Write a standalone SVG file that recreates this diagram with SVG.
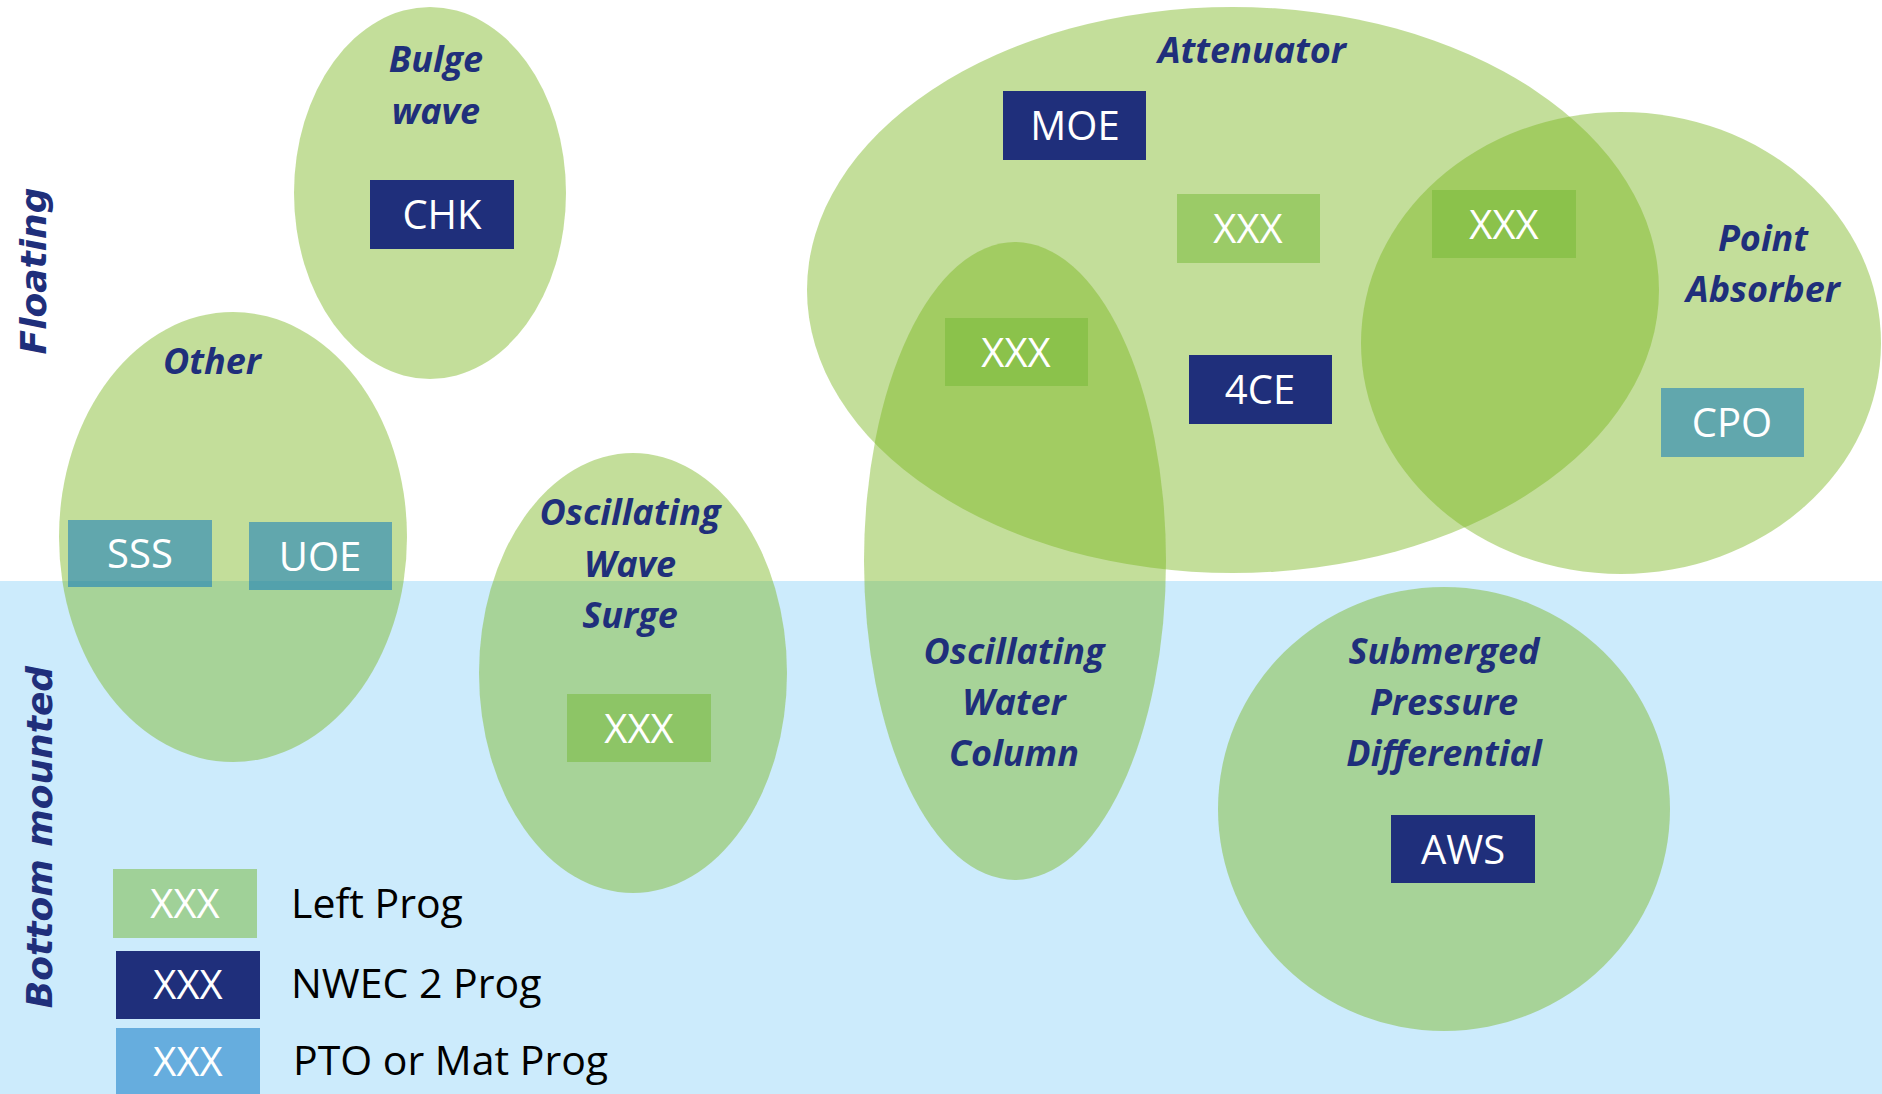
<svg xmlns="http://www.w3.org/2000/svg" width="1882" height="1094" viewBox="0 0 1882 1094">
<defs>
<style>
.blob{fill:#7AB61F;fill-opacity:0.45}
.h{font-family:"Open Sans","Liberation Sans",sans-serif;font-weight:bold;font-style:italic;font-size:36px;fill:#1F2F7B;text-anchor:middle}
.v{font-family:"DejaVu Sans","Verdana",sans-serif;font-weight:bold;font-style:oblique;font-size:36px;fill:#1F2F7B;text-anchor:middle}
.bt{font-family:"Open Sans","Liberation Sans",sans-serif;font-size:40px;fill:#FFFFFF;text-anchor:middle}
.lt{font-family:"Open Sans","Liberation Sans",sans-serif;font-size:41px;fill:#000000}
.navy{fill:#1F2F7B}
.grn{fill:#73B733;fill-opacity:0.5}
.blu{fill:#0070C0;fill-opacity:0.5}
</style>
</defs>
<rect x="0" y="0" width="1882" height="1094" fill="#FFFFFF"/>
<rect id="bottom-zone" x="0" y="581" width="1882" height="513" fill="#CCEBFC"/>

<g id="zone-labels">
<text class="v" transform="translate(46,271) rotate(-90)">Floating</text>
<text class="v" transform="translate(52,837) rotate(-90)">Bottom mounted</text>
</g>

<g id="connectors"></g>

<g id="ellipses">
<ellipse id="e-bulge" class="blob" cx="430" cy="193" rx="136" ry="186"/>
<ellipse id="e-other" class="blob" cx="233" cy="537" rx="174" ry="225"/>
<ellipse id="e-ows" class="blob" cx="633" cy="673" rx="154" ry="220"/>
<ellipse id="e-att" class="blob" cx="1233" cy="290" rx="426" ry="283"/>
<ellipse id="e-owc" class="blob" cx="1015" cy="561" rx="151" ry="319"/>
<ellipse id="e-pa" class="blob" cx="1621" cy="343" rx="260" ry="231"/>
<ellipse id="e-spd" class="blob" cx="1444" cy="809" rx="226" ry="222"/>
</g>

<g id="bulge-wave">
<text class="h" x="436" y="72">Bulge</text>
<text class="h" x="436" y="124">wave</text>
<g id="chk"><rect class="navy" x="370" y="180" width="144" height="69"/><text class="bt" x="442" y="229">CHK</text></g>
</g>

<g id="other">
<text class="h" x="212" y="374">Other</text>
<g id="sss"><rect class="blu" x="68" y="520" width="144" height="67"/><text class="bt" x="140" y="568">SSS</text></g>
<g id="uoe"><rect class="blu" x="249" y="522" width="143" height="68"/><text class="bt" x="320" y="571">UOE</text></g>
</g>

<g id="oscillating-wave-surge">
<text class="h" x="630" y="525">Oscillating</text>
<text class="h" x="630" y="577">Wave</text>
<text class="h" x="630" y="628">Surge</text>
<g id="ows-xxx"><rect class="grn" x="567" y="694" width="144" height="68"/><text class="bt" x="639" y="743">XXX</text></g>
</g>

<g id="attenuator">
<text class="h" x="1252" y="63">Attenuator</text>
<g id="moe"><rect class="navy" x="1003" y="91" width="143" height="69"/><text class="bt" x="1075" y="140">MOE</text></g>
<g id="att-xxx1"><rect class="grn" x="1177" y="194" width="143" height="69"/><text class="bt" x="1248" y="243">XXX</text></g>
<g id="att-xxx2"><rect class="grn" x="1432" y="190" width="144" height="68"/><text class="bt" x="1504" y="239">XXX</text></g>
<g id="att-xxx3"><rect class="grn" x="945" y="318" width="143" height="68"/><text class="bt" x="1016" y="367">XXX</text></g>
<g id="ce4"><rect class="navy" x="1189" y="355" width="143" height="69"/><text class="bt" x="1260" y="404">4CE</text></g>
</g>

<g id="point-absorber">
<text class="h" x="1763" y="251">Point</text>
<text class="h" x="1763" y="302">Absorber</text>
<g id="cpo"><rect class="blu" x="1661" y="388" width="143" height="69"/><text class="bt" x="1732" y="437">CPO</text></g>
</g>

<g id="oscillating-water-column">
<text class="h" x="1014" y="664">Oscillating</text>
<text class="h" x="1014" y="715">Water</text>
<text class="h" x="1014" y="766">Column</text>
</g>

<g id="submerged-pressure-differential">
<text class="h" x="1444" y="664">Submerged</text>
<text class="h" x="1444" y="715">Pressure</text>
<text class="h" x="1444" y="766">Differential</text>
<g id="aws"><rect class="navy" x="1391" y="815" width="144" height="68"/><text class="bt" x="1463" y="864">AWS</text></g>
</g>

<g id="legend">
<g id="leg1"><rect class="grn" x="113" y="869" width="144" height="69"/><text class="bt" x="185" y="918">XXX</text><text class="lt" x="291" y="918">Left Prog</text></g>
<g id="leg2"><rect class="navy" x="116" y="951" width="144" height="68"/><text class="bt" x="188" y="999">XXX</text><text class="lt" x="291" y="998">NWEC 2 Prog</text></g>
<g id="leg3"><rect class="blu" x="116" y="1028" width="144" height="66"/><text class="bt" x="188" y="1076">XXX</text><text class="lt" x="293" y="1075">PTO or Mat Prog</text></g>
</g>
</svg>
